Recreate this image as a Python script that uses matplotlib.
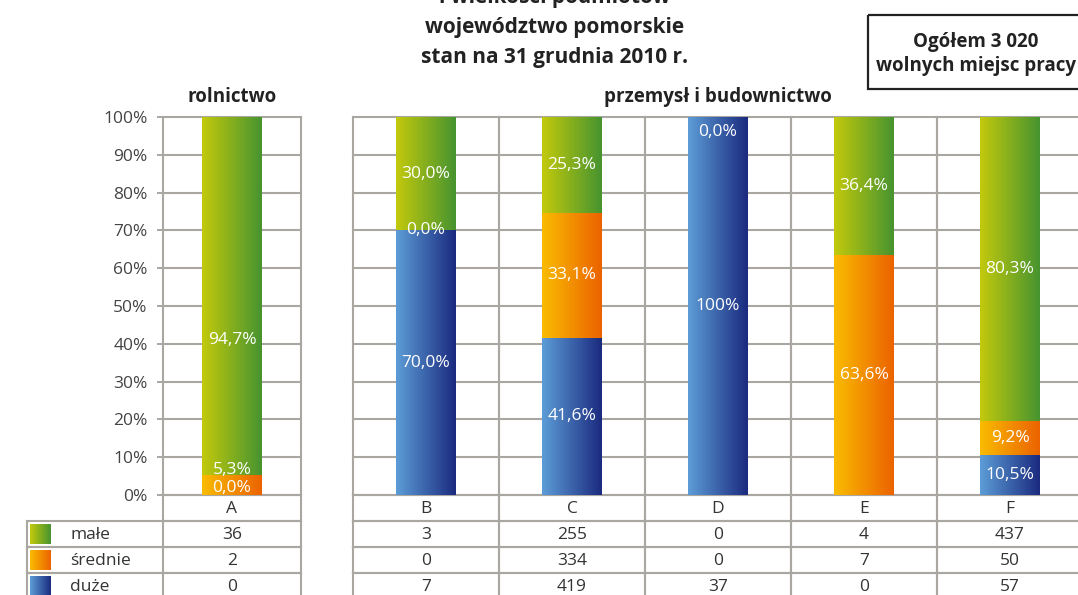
import numpy as np
import matplotlib
matplotlib.use("Agg")
import matplotlib.pyplot as plt
from matplotlib.colors import to_rgb
from matplotlib.patches import Rectangle

plt.rcParams["font.family"] = ["Open Sans", "DejaVu Sans"]

# data
categories = ["A", "B", "C", "D", "E", "F"]
series = ["małe", "średnie", "duże"]
counts_male = [36, 3, 255, 0, 4, 437]
counts_srednie = [2, 0, 334, 0, 7, 50]
counts_duze = [0, 7, 419, 37, 0, 57]
pct_male = [94.7, 30.0, 25.3, 0.0, 36.4, 80.3]
pct_srednie = [5.3, 0.0, 33.1, 0.0, 63.6, 9.2]
pct_duze = [0.0, 70.0, 41.6, 100.0, 0.0, 10.5]
pct_labels_male = ["94,7%", "30,0%", "25,3%", "0,0%", "36,4%", "80,3%"]
pct_labels_srednie = ["5,3%", "0,0%", "33,1%", "0,0%", "63,6%", "9,2%"]
pct_labels_duze = ["0,0%", "70,0%", "41,6%", "100%", "0,0%", "10,5%"]
show_male = [1, 1, 1, 1, 1, 1]
show_srednie = [1, 1, 1, 0, 1, 1]
show_duze = [1, 1, 1, 1, 0, 1]
yticks = [0, 10, 20, 30, 40, 50, 60, 70, 80, 90, 100]
panel_titles = ["rolnictwo", "przemysł i budownictwo"]
title_lines = ["i wielkości podmiotów", "województwo pomorskie", "stan na 31 grudnia 2010 r."]
total_box = "Ogółem 3 020\nwolnych miejsc pracy"

# layout (pixels)
W, H = 1078, 595
x0 = 163
col_w = [138, 146, 146, 146, 146, 146]
gap = 52
bar_w = 60
y_top, y_bot = 117, 495
row_h = 26
grid_c = "#aaa6a2"
txt_c = "#333333"
fs = 12.5

edges = []
x = 0
for i, w in enumerate(col_w):
    if i == 1:
        x += gap
    edges.append((x, x + w))
    x += w
right = edges[-1][1]

grads = {
    "małe": ("#c2c90c", "#479430"),
    "średnie": ("#f9bb00", "#ec6300"),
    "duże": ("#5c9cd6", "#1b2b7f"),
}

def grad_img(c0, c1, n=64):
    a, b = np.array(to_rgb(c0)), np.array(to_rgb(c1))
    t = np.linspace(0, 1, n)[:, None]
    return (a + (b - a) * t)[None, :, :]

fig = plt.figure(figsize=(W / 100, H / 100), dpi=100)
# full-figure pixel axes for table and text
bg = fig.add_axes([0, 0, 1, 1])
bg.set_xlim(0, W); bg.set_ylim(H, 0); bg.axis("off")

ax = fig.add_axes([x0 / W, (H - y_bot) / H, right / W, (y_bot - y_top) / H])
ax.set_xlim(0, right); ax.set_ylim(0, 100)
for s in ax.spines.values():
    s.set_visible(False)
ax.set_xticks([])
ax.set_yticks(yticks)
ax.set_yticklabels([f"{t}%" for t in yticks], fontsize=fs, color="#444444")
ax.tick_params(axis="y", length=4, width=1.4, color=grid_c, pad=7)
ax.patch.set_alpha(0)

# grid
for (a, b) in [edges[0], (edges[1][0], edges[-1][1])]:
    for t in yticks:
        ax.plot([a, b], [t, t], color=grid_c, lw=1.5, zorder=1, clip_on=False)
for (a, b) in edges:
    for xx in (a, b):
        ax.plot([xx, xx], [0, 100], color=grid_c, lw=1.5, zorder=1, clip_on=False)

# bars
stack = [("duże", pct_duze, pct_labels_duze, show_duze),
         ("średnie", pct_srednie, pct_labels_srednie, show_srednie),
         ("małe", pct_male, pct_labels_male, show_male)]
nudge = {(0, "duże"): 1.8, (0, "średnie"): 4.0, (0, "małe"): -11.6, (3, "małe"): -4.0}
for i, (a, b) in enumerate(edges):
    cx = (a + b) / 2
    base = 0
    for name, vals, labs, show in stack:
        v = vals[i]
        if v > 0:
            ax.imshow(grad_img(*grads[name]), extent=[cx - bar_w / 2, cx + bar_w / 2, base, base + v],
                      aspect="auto", zorder=2, interpolation="bilinear")
        if show[i]:
            yl = base + v / 2 + nudge.get((i, name), 0)
            ax.text(cx, yl, labs[i], ha="center", va="center", color="white", fontsize=fs, zorder=3)
        base += v
ax.set_xlim(0, right); ax.set_ylim(0, 100)

# table
leg_l = 27
rows = [("", categories)] + [(n, c) for n, c in zip(series, [counts_male, counts_srednie, counts_duze])]
lw = 1.5
for r, (name, vals) in enumerate(rows):
    yt = y_bot + r * row_h
    yb = yt + row_h
    yc = (yt + yb) / 2 + 1
    spans = [(x0 + edges[0][0], x0 + edges[0][1]), (x0 + edges[1][0], x0 + edges[-1][1])]
    if r > 0:
        spans[0] = (leg_l, x0 + edges[0][1])
        bg.plot([leg_l, leg_l], [yt, yb], color=grid_c, lw=lw)
        c0, c1 = grads[name]
        bg.imshow(grad_img(c0, c1), extent=[leg_l + 3, leg_l + 24, yb - 3, yt + 3], aspect="auto",
                  interpolation="bilinear")
        bg.text(leg_l + 43, yc, name, ha="left", va="center", fontsize=fs, color=txt_c)
    for a, b in spans:
        bg.plot([a, b], [yt, yt], color=grid_c, lw=lw)
        bg.plot([a, b], [yb, yb], color=grid_c, lw=lw)
    for i, (a, b) in enumerate(edges):
        bg.plot([x0 + a] * 2, [yt, yb], color=grid_c, lw=lw)
        bg.plot([x0 + b] * 2, [yt, yb], color=grid_c, lw=lw)
        bg.text(x0 + (a + b) / 2, yc, str(vals[i]), ha="center", va="center", fontsize=fs, color=txt_c)
bg.set_xlim(0, W); bg.set_ylim(H, 0)

# titles (first line is cut at the top edge, as in the source)
for k, line in enumerate(title_lines):
    bg.text(555, -2 + 30 * k, line, ha="center", va="center", fontsize=15, fontweight="bold", color="#222222")
bg.text(x0 + sum(edges[0]) / 2, 97, panel_titles[0], ha="center", va="center", fontsize=13.5,
        fontweight="bold", color="#222222")
bg.text(x0 + (edges[1][0] + edges[-1][1]) / 2, 97, panel_titles[1], ha="center", va="center",
        fontsize=13.5, fontweight="bold", color="#222222")
bg.add_patch(Rectangle((868, 15), 230, 74, fill=False, lw=1.6, edgecolor="#222222"))
bg.text(976, 54, total_box, ha="center", va="center", fontsize=13.5, fontweight="bold",
        color="#222222", linespacing=1.3)

fig.savefig("out.png", dpi=100)
